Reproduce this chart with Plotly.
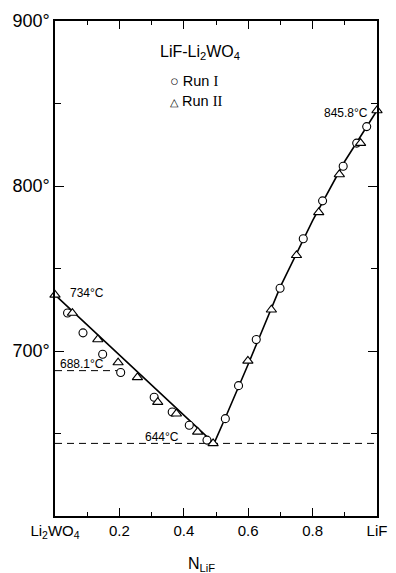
import plotly.graph_objects as go

# Run I (circles)
run1_x = [0.039, 0.087, 0.148, 0.204, 0.308, 0.364, 0.417, 0.472, 0.529, 0.570,
          0.625, 0.699, 0.771, 0.831, 0.895, 0.937, 0.968]
run1_y = [723, 711, 698, 687, 672, 663, 655, 646, 659, 679,
          707, 738, 768, 791, 812, 826, 836]

# Run II (triangles)
run2_x = [0.0, 0.054, 0.133, 0.196, 0.256, 0.319, 0.377, 0.443, 0.491,
          0.599, 0.672, 0.750, 0.819, 0.883, 0.949, 1.0]
run2_y = [734, 723, 707, 693, 684, 669, 662, 651, 644,
          694, 725, 758, 784, 807, 826, 845.8]

# Liquidus curve
liq_x = [0.0, 0.494, 0.53, 0.60, 0.70, 0.80, 0.90, 1.0]
liq_y = [734, 644, 660, 692, 739, 779, 815, 845.8]

eutectic_t = 644
transition_t = 688.1
transition_x_end = 0.2

x_tickvals = [0, 0.2, 0.4, 0.6, 0.8, 1.0]
x_ticktext = ["Li<sub>2</sub>WO<sub>4</sub>", "0.2", "0.4", "0.6", "0.8", "LiF"]
y_tickvals = [600, 700, 800, 900]
y_ticktext = ["", "700°", "800°", "900°"]

FONT = "Liberation Sans, Arial, sans-serif"

fig = go.Figure()

fig.add_trace(go.Scatter(x=[0, 1], y=[eutectic_t, eutectic_t], mode="lines",
                         line=dict(color="black", width=1, dash="7px,5px"),
                         showlegend=False, hoverinfo="skip"))
fig.add_trace(go.Scatter(x=[0, transition_x_end], y=[transition_t, transition_t], mode="lines",
                         line=dict(color="black", width=1, dash="7px,5px"),
                         showlegend=False, hoverinfo="skip"))
fig.add_trace(go.Scatter(x=liq_x, y=liq_y, mode="lines",
                         line=dict(color="black", width=1.6),
                         showlegend=False))
fig.add_trace(go.Scatter(x=run1_x, y=run1_y, mode="markers", name="Run I",
                         marker=dict(symbol="circle", size=8, color="white",
                                     line=dict(color="black", width=1.1)),
                         showlegend=False))
fig.add_trace(go.Scatter(x=run2_x, y=run2_y, mode="markers", name="Run II",
                         marker=dict(symbol="triangle-up", size=9, color="white",
                                     line=dict(color="black", width=1.1)),
                         showlegend=False, cliponaxis=False))

ann_font = dict(family=FONT, size=12, color="black")
annotations = [
    dict(x=0.039, y=735, text="734°C", xanchor="left", yanchor="middle"),
    dict(x=0.009, y=692, text="688.1°C", xanchor="left", yanchor="middle"),
    dict(x=0.274, y=648, text="644°C", xanchor="left", yanchor="middle"),
    dict(x=0.979, y=844.5, text="845.8°C", xanchor="right", yanchor="middle"),
]
for a in annotations:
    fig.add_annotation(xref="x", yref="y", showarrow=False, font=ann_font, **a)

# Legend block
fig.add_annotation(xref="x", yref="y", x=0.32, y=881, text="LiF-Li<sub>2</sub>WO<sub>4</sub>",
                   showarrow=False, xanchor="left", yanchor="middle",
                   font=dict(family=FONT, size=16, color="black"))
fig.add_annotation(xref="x", yref="y", x=0.352, y=863.4,
                   text="○ Run <span style='font-family:Liberation Serif'>I</span>",
                   showarrow=False, xanchor="left", yanchor="middle",
                   font=dict(family=FONT, size=14.5, color="black"))
fig.add_annotation(xref="x", yref="y", x=0.352, y=851.4,
                   text="<span style='font-size:11px'>△</span> Run <span style='font-family:Liberation Serif'>II</span>",
                   showarrow=False, xanchor="left", yanchor="middle",
                   font=dict(family=FONT, size=14.5, color="black"))

# Axis title
fig.add_annotation(xref="paper", yref="paper", x=0.455, y=-0.097, text="N<sub>LiF</sub>",
                   showarrow=False, xanchor="center", yanchor="middle",
                   font=dict(family=FONT, size=16, color="black"))

fig.update_xaxes(range=[0, 1], tickvals=x_tickvals, ticktext=x_ticktext,
                 ticks="inside", ticklen=8, tickwidth=1, tickcolor="black",
                 minor=dict(dtick=0.1, tick0=0, ticks="inside", ticklen=4, tickcolor="black"),
                 showline=True, linecolor="black", linewidth=1.5, mirror="ticks",
                 showgrid=False, zeroline=False,
                 tickfont=dict(family=FONT, size=15, color="black"))
fig.update_yaxes(range=[600, 900], tickvals=y_tickvals, ticktext=y_ticktext,
                 ticks="inside", ticklen=9, tickwidth=1, tickcolor="black",
                 minor=dict(dtick=50, tick0=600, ticks="inside", ticklen=6, tickcolor="black"),
                 showline=True, linecolor="black", linewidth=1.5, mirror="ticks",
                 showgrid=False, zeroline=False,
                 tickfont=dict(family=FONT, size=18, color="black"))

fig.update_layout(width=396, height=573, margin=dict(l=55, r=9, t=21, b=57),
                  plot_bgcolor="white", paper_bgcolor="white", showlegend=False)

fig.write_html("out.html")
